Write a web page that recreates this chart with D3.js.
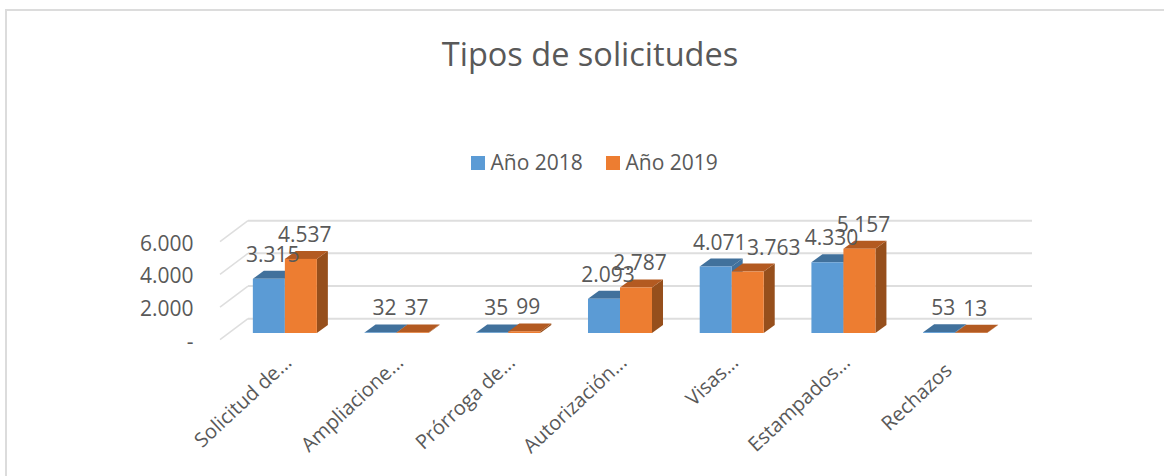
<!DOCTYPE html>
<html>
<head>
<meta charset="utf-8">
<script src="https://cdn.jsdelivr.net/npm/d3@7"></script>
<style>
  html, body { margin: 0; padding: 0; background: #fff; overflow: hidden; }
  text { font-family: "Open Sans", "Noto Sans", sans-serif; fill: #595959; }
</style>
</head>
<body>
<div id="chart"></div>
<script>
var categories = ["Solicitud de...", "Ampliacione...", "Prórroga de...", "Autorización...", "Visas...", "Estampados...", "Rechazos"];
var seriesNames = ["Año 2018", "Año 2019"];
var values2018 = [3315, 32, 35, 2093, 4071, 4330, 53];
var values2019 = [4537, 37, 99, 2787, 3763, 5157, 13];
var yTicks = [0, 2000, 4000, 6000];
var yTickLabels = ["-", "2.000", "4.000", "6.000"];
var dataLabels2018 = ["3.315", "32", "35", "2.093", "4.071", "4.330", "53"];
var dataLabels2019 = ["4.537", "37", "99", "2.787", "3.763", "5.157", "13"];

var width = 1164, height = 476;
var depthX = 11, depthY = 8;   // front face to back of the bar
var wallX = 28, wallY = 21;    // floor edge to back wall

var colors = ["#5b9bd5", "#ed7d31"];
var topColors = ["#41719c", "#b35a21"];
var sideColors = ["#41719c", "#964f1c"];

var svg = d3.select("#chart").append("svg")
  .attr("width", width)
  .attr("height", height)
  .style("display", "block");

// chart frame, the right and bottom edges are cut off by the picture
svg.append("rect")
  .attr("x", 6).attr("y", 10)
  .attr("width", 1200).attr("height", 500)
  .attr("fill", "#fff")
  .attr("stroke", "#dcdcdc")
  .attr("stroke-width", 2);

svg.append("text")
  .attr("x", 590).attr("y", 66)
  .attr("text-anchor", "middle")
  .attr("font-size", 32.5)
  .text("Tipos de solicitudes");

var x0 = d3.scaleBand().domain(categories).range([229, 1011]).paddingInner(0.427).paddingOuter(0.2135);
var x1 = d3.scaleBand().domain(seriesNames).range([0, x0.bandwidth()]);
var y = d3.scaleLinear().domain([0, 6000]).range([333, 235]);

// back wall gridlines and the slanted wall lines
var grid = svg.append("g");
yTicks.forEach(function(t) {
  var yy = y(t) - 14.3;
  grid.append("line")
    .attr("x1", 248).attr("x2", 1032)
    .attr("y1", yy).attr("y2", yy)
    .attr("stroke", "#dedede").attr("stroke-width", 2);
  grid.append("line")
    .attr("x1", 248).attr("x2", 248 - wallX)
    .attr("y1", yy).attr("y2", yy + wallY)
    .attr("stroke", "#dedede").attr("stroke-width", 1.5);
});

// axis labels
svg.append("g").selectAll("text")
  .data(yTicks)
  .enter().append("text")
  .attr("x", 193.5)
  .attr("y", function(d) { return y(d) + 15.5; })
  .attr("text-anchor", "end")
  .attr("font-size", 21)
  .text(function(d, i) { return yTickLabels[i]; });

// bars, back to front so the orange one overlaps the blue top
var bars = svg.append("g");
function drawSeries(vals, i) {
  vals.forEach(function(v, k) {
    var left = x0(categories[k]) + x1(seriesNames[i]);
    var right = left + x1.bandwidth();
    var top = y(v), base = y(0);
    bars.append("polygon")
      .attr("points", [[right, base], [right + depthX, base - depthY], [right + depthX, top - depthY], [right, top]].join(" "))
      .attr("fill", sideColors[i]);
    bars.append("polygon")
      .attr("points", [[left, top], [left + depthX, top - depthY], [right + depthX, top - depthY], [right, top]].join(" "))
      .attr("fill", topColors[i]);
    bars.append("rect")
      .attr("x", left).attr("y", top)
      .attr("width", x1.bandwidth()).attr("height", base - top)
      .attr("fill", colors[i]);
  });
}
drawSeries(values2018, 0);
drawSeries(values2019, 1);

// data labels
var labels = svg.append("g");
function drawLabels(vals, names, i) {
  vals.forEach(function(v, k) {
    // the 3.763 label sits pushed to the right of its bar in the original
    var nudge = names[k] === "3.763" ? 22 : 0;
    labels.append("text")
      .attr("x", x0(categories[k]) + x1(seriesNames[i]) + x1.bandwidth() / 2 + 4 + nudge)
      .attr("y", y(v) - 17)
      .attr("text-anchor", "middle")
      .attr("font-size", 21)
      .text(names[k]);
  });
}
drawLabels(values2018, dataLabels2018, 0);
drawLabels(values2019, dataLabels2019, 1);

// category labels, rotated. Rechazos is not truncated and ends lower and further left
svg.append("g").selectAll("text")
  .data(categories)
  .enter().append("text")
  .attr("text-anchor", "end")
  .attr("font-size", 20)
  .attr("transform", function(d) {
    var dx = d === "Rechazos" ? -10 : 0;
    var dy = d === "Rechazos" ? 8 : 0;
    return "translate(" + (x0(d) + x0.bandwidth() / 2 + 8 + dx) + "," + (364 + dy) + ") rotate(-43)";
  })
  .text(function(d) { return d; });

// legend
var legendX = [471, 606];
seriesNames.forEach(function(name, i) {
  svg.append("rect")
    .attr("x", legendX[i]).attr("y", 156)
    .attr("width", 14).attr("height", 14)
    .attr("fill", colors[i]);
  svg.append("text")
    .attr("x", legendX[i] + 19.5).attr("y", 170)
    .attr("font-size", 21)
    .text(name);
});
</script>
</body>
</html>
